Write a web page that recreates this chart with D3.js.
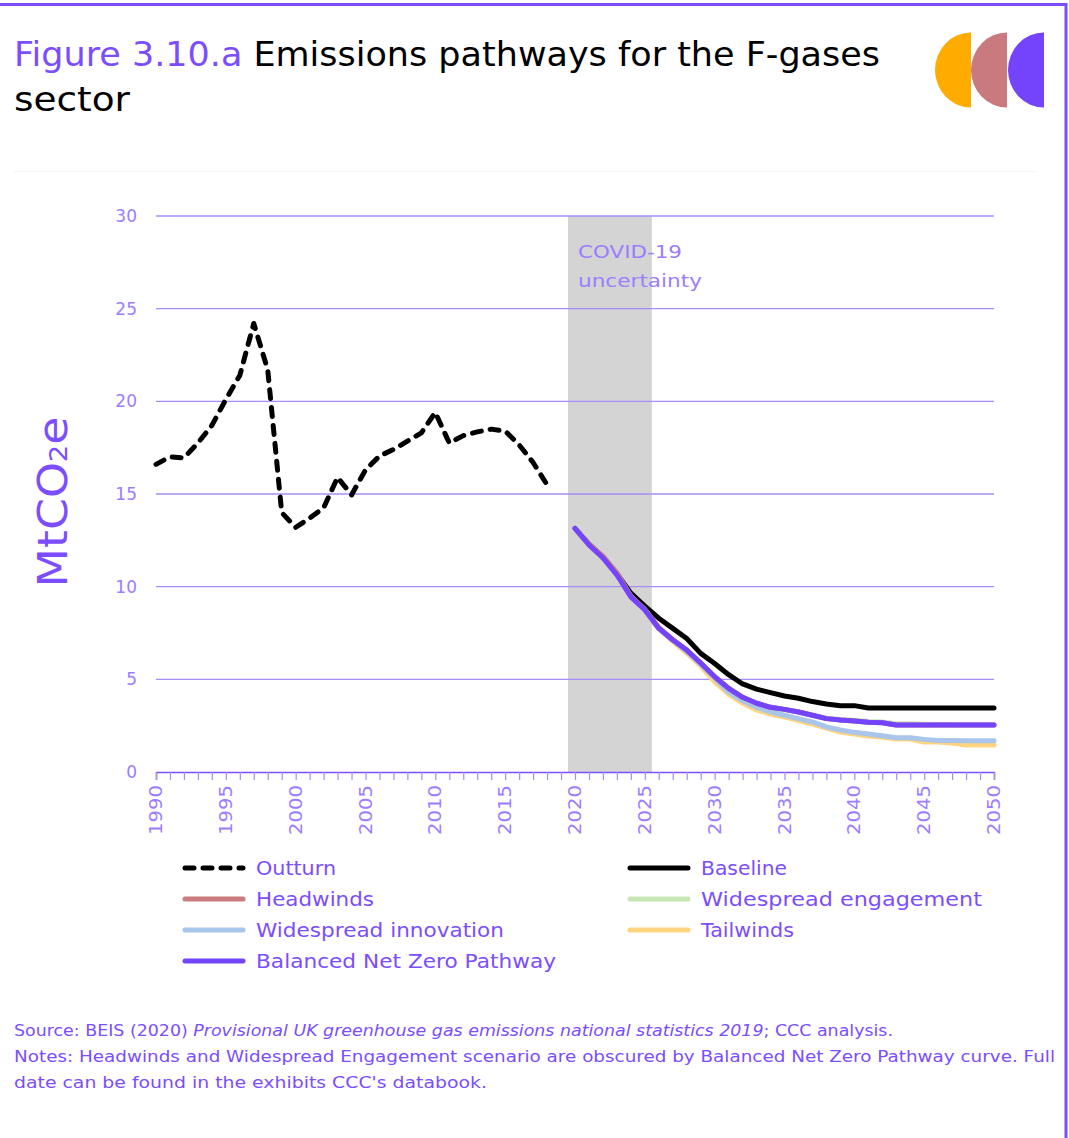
<!DOCTYPE html>
<html>
<head>
<meta charset="utf-8">
<script src="https://cdn.jsdelivr.net/npm/d3@7"></script>
<style>
  html, body { margin: 0; padding: 0; background: #fff; }
  svg { display: block; }
  text { font-family: "DejaVu Sans", "Open Sans", sans-serif; }
</style>
</head>
<body>
<script>
// ---------- DATA ----------
const outturnYears = [1990,1991,1992,1993,1994,1995,1996,1997,1998,1999,2000,2001,2002,2003,2004,2005,2006,2007,2008,2009,2010,2011,2012,2013,2014,2015,2016,2017,2018];
const outturn = [16.6,17.0,16.95,17.75,18.7,20.1,21.4,24.2,21.7,14.0,13.2,13.7,14.25,15.9,14.95,16.3,17.05,17.4,17.85,18.3,19.4,17.75,18.15,18.35,18.5,18.4,17.65,16.7,15.5];

const scenarioYears = [2020,2021,2022,2023,2024,2025,2026,2027,2028,2029,2030,2031,2032,2033,2034,2035,2036,2037,2038,2039,2040,2041,2042,2043,2044,2045,2046,2047,2048,2049,2050];
const baseline = [13.15,12.3,11.6,10.7,9.65,8.95,8.3,7.75,7.2,6.4,5.85,5.25,4.75,4.47,4.28,4.1,3.98,3.8,3.67,3.58,3.58,3.45,3.45,3.45,3.45,3.45,3.45,3.45,3.45,3.45,3.45];
const headwinds = [13.15,12.3,11.65,10.75,9.5,8.78,7.8,7.15,6.58,5.88,5.14,4.51,4.03,3.71,3.49,3.38,3.24,3.06,2.88,2.8,2.75,2.68,2.66,2.54,2.54,2.54,2.54,2.54,2.54,2.54,2.54];
const engagement = [13.15,12.25,11.55,10.63,9.45,8.74,7.75,7.12,6.58,5.88,5.14,4.51,4.03,3.71,3.49,3.38,3.24,3.06,2.9,2.83,2.79,2.72,2.7,2.6,2.6,2.58,2.56,2.55,2.55,2.55,2.55];
const innovation = [13.15,12.25,11.55,10.63,9.45,8.74,7.75,7.1,6.5,5.8,5.07,4.32,3.84,3.49,3.25,3.06,2.88,2.7,2.43,2.27,2.14,2.05,1.96,1.85,1.85,1.76,1.7,1.7,1.69,1.69,1.69];
const tailwinds = [13.15,12.25,11.55,10.63,9.45,8.74,7.72,7.05,6.42,5.72,4.87,4.2,3.72,3.35,3.13,2.97,2.77,2.59,2.37,2.16,2.05,1.94,1.89,1.78,1.78,1.62,1.62,1.56,1.46,1.46,1.46];
const bnzp = [13.15,12.25,11.55,10.63,9.45,8.74,7.75,7.12,6.58,5.88,5.14,4.51,4.03,3.71,3.49,3.38,3.24,3.06,2.88,2.8,2.75,2.68,2.66,2.54,2.54,2.54,2.54,2.54,2.54,2.54,2.54];

const yTicks = [0,5,10,15,20,25,30];
const xTickLabels = [1990,1995,2000,2005,2010,2015,2020,2025,2030,2035,2040,2045,2050];
const covidBand = [2019.5, 2025.5];

const seriesNames = ["Outturn","Baseline","Headwinds","Widespread engagement","Widespread innovation","Tailwinds","Balanced Net Zero Pathway"];
const seriesColors = ["#000000","#000000","#c97b7e","#c8e6b4","#a9c5eb","#ffd47e","#7344fb"];

// ---------- LAYOUT ----------
const W = 1069, H = 1138;
const PURPLE = "#7b4dff";
const LPURPLE = "#9c7dff";
const GRID = "#a68dfb";

const svg = d3.select("body").append("svg").attr("width", W).attr("height", H);

// fit a text element to a target width by letter spacing
function fit(sel, w) {
  return sel.attr("textLength", w).attr("lengthAdjust", "spacingAndGlyphs");
}

// border (top and right)
svg.append("line").attr("x1", 0).attr("x2", 1067).attr("y1", 4.5).attr("y2", 4.5).attr("stroke", PURPLE).attr("stroke-width", 3);
svg.append("line").attr("x1", 1066).attr("x2", 1066).attr("y1", 3).attr("y2", H).attr("stroke", PURPLE).attr("stroke-width", 3);

// title
const title = svg.append("text").attr("x", 14).attr("y", 66).attr("font-size", 34).attr("fill", "#000");
title.append("tspan").attr("fill", PURPLE).text("Figure 3.10.a");
title.append("tspan").text(" Emissions pathways for the F-gases");
fit(title, 866);
fit(svg.append("text").attr("x", 14).attr("y", 111).attr("font-size", 34).attr("fill", "#000").text("sector"), 116);

// logo: three half-discs, flat on the right
const logo = [{cx: 971, c: "#ffab00"}, {cx: 1007, c: "#c87a7e"}, {cx: 1044, c: "#7344fb"}];
logo.forEach(d => {
  const rx = 36, ry = 37.5, cy = 70;
  svg.append("path")
    .attr("d", `M${d.cx},${cy - ry} A${rx},${ry} 0 0 0 ${d.cx},${cy + ry} Z`)
    .attr("fill", d.c);
});

// faint plot frame line
svg.append("line").attr("x1", 14).attr("x2", 1035).attr("y1", 171.5).attr("y2", 171.5).attr("stroke", "#f3f3f3").attr("stroke-width", 1);

// scales
const x = d3.scaleLinear().domain([1990, 2050]).range([156, 994]);
const y = d3.scaleLinear().domain([0, 30]).range([772, 216]);

// covid band
svg.append("rect")
  .attr("x", x(covidBand[0])).attr("width", x(covidBand[1]) - x(covidBand[0]))
  .attr("y", y(30)).attr("height", y(0) - y(30))
  .attr("fill", "#d4d4d4");

// grid
svg.append("g").selectAll("line").data(yTicks.filter(d => d > 0)).join("line")
  .attr("x1", x(1990)).attr("x2", x(2050))
  .attr("y1", d => y(d)).attr("y2", d => y(d))
  .attr("stroke", GRID).attr("stroke-width", 1.3);

// y labels
svg.append("g").selectAll("text").data(yTicks).join("text")
  .attr("x", 137).attr("y", d => y(d)).attr("dy", "0.36em")
  .attr("text-anchor", "end").attr("font-size", 17).attr("fill", LPURPLE)
  .text(d => d);

// y title
const yt = svg.append("text").attr("transform", "translate(67,502) rotate(-90)")
  .attr("text-anchor", "middle").attr("font-size", 40).attr("fill", PURPLE);
yt.append("tspan").text("MtCO");
yt.append("tspan").attr("font-size", 24).text("2");
yt.append("tspan").text("e");
fit(yt, 171);

// x axis
const xAxis = d3.axisBottom(x).tickValues(d3.range(1990, 2051)).tickSize(8).tickFormat("");
const xg = svg.append("g").attr("transform", `translate(0,${y(0)})`).call(xAxis);
xg.select(".domain").attr("stroke", PURPLE).attr("stroke-width", 1.5);
xg.selectAll(".tick line").attr("stroke", GRID).attr("stroke-width", 1.2);

svg.append("g").selectAll("text").data(xTickLabels).join("text")
  .attr("transform", d => `translate(${x(d)},785) rotate(-90)`)
  .attr("dy", "0.36em").attr("text-anchor", "end")
  .attr("font-size", 17).attr("fill", LPURPLE)
  .attr("textLength", 50).attr("lengthAdjust", "spacingAndGlyphs")
  .text(d => d);

// covid label
fit(svg.append("text").attr("x", 578).attr("y", 258).attr("font-size", 18).attr("fill", LPURPLE).text("COVID-19"), 104);
fit(svg.append("text").attr("x", 578).attr("y", 287).attr("font-size", 18).attr("fill", LPURPLE).text("uncertainty"), 124);

// lines
const line = d3.line().x(d => x(d[0])).y(d => y(d[1]));
const zipS = vals => scenarioYears.map((yr, i) => [yr, vals[i]]);

const drawOrder = [
  {v: baseline, c: seriesColors[1]},
  {v: tailwinds, c: seriesColors[5]},
  {v: innovation, c: seriesColors[4]},
  {v: engagement, c: seriesColors[3]},
  {v: headwinds, c: seriesColors[2]},
  {v: bnzp, c: seriesColors[6]}
];
drawOrder.forEach(s => {
  svg.append("path").datum(zipS(s.v)).attr("d", line)
    .attr("fill", "none").attr("stroke", s.c).attr("stroke-width", 5)
    .attr("stroke-linejoin", "round").attr("stroke-linecap", "round");
});

svg.append("path").datum(outturnYears.map((yr, i) => [yr, outturn[i]])).attr("d", line)
  .attr("fill", "none").attr("stroke", "#000").attr("stroke-width", 5)
  .attr("stroke-dasharray", "9,9").attr("stroke-linecap", "round").attr("stroke-linejoin", "round");

// legend
const legendPos = [
  [183, 868], [628, 868],
  [183, 899], [628, 899],
  [183, 930], [628, 930],
  [183, 961]
];
const legendWidths = [80, 86, 118, 281, 248, 93, 300];
seriesNames.forEach((name, i) => {
  const [lx, ly] = legendPos[i];
  svg.append("line").attr("x1", lx + 2).attr("x2", lx + 60).attr("y1", ly).attr("y2", ly)
    .attr("stroke", seriesColors[i]).attr("stroke-width", 5).attr("stroke-linecap", "round")
    .attr("stroke-dasharray", i === 0 ? "9,9" : null);
  fit(svg.append("text").attr("x", lx + 73).attr("y", ly).attr("dy", "0.36em")
    .attr("font-size", 19).attr("fill", PURPLE).text(name), legendWidths[i]);
});

// footer
const src = svg.append("text").attr("x", 14).attr("y", 1036).attr("font-size", 15).attr("fill", PURPLE);
src.append("tspan").text("Source: BEIS (2020) ");
src.append("tspan").attr("font-style", "italic").text("Provisional UK greenhouse gas emissions national statistics 2019");
src.append("tspan").text("; CCC analysis.");
fit(src, 879);
fit(svg.append("text").attr("x", 14).attr("y", 1062).attr("font-size", 15).attr("fill", PURPLE)
  .text("Notes: Headwinds and Widespread Engagement scenario are obscured by Balanced Net Zero Pathway curve. Full"), 1041);
fit(svg.append("text").attr("x", 14).attr("y", 1088).attr("font-size", 15).attr("fill", PURPLE)
  .text("date can be found in the exhibits CCC's databook."), 473);
</script>
</body>
</html>
